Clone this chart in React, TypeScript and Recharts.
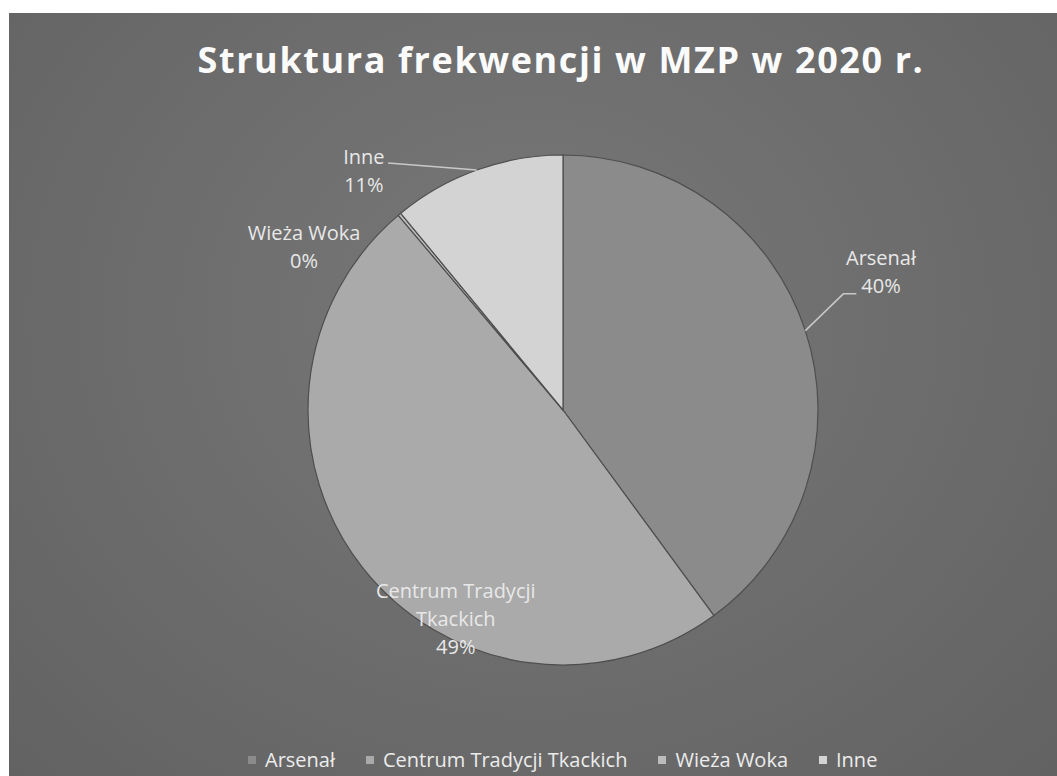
import { PieChart, Pie, Cell, Legend } from 'recharts';

const categories = ['Arsenał', 'Centrum Tradycji Tkackich', 'Wieża Woka', 'Inne'];
const shares = [40, 49, 0.2, 11];
const sliceColors = ['#8b8b8b', '#aaaaaa', '#bcbcbc', '#d3d3d3'];
const labelLines: Record<string, string[]> = {
  'Arsenał': ['Arsenał'],
  'Centrum Tradycji Tkackich': ['Centrum Tradycji', 'Tkackich'],
  'Wieża Woka': ['Wieża Woka'],
  'Inne': ['Inne'],
};

const data = categories.map((name, i) => ({ name, value: shares[i] }));

// label block placement, polar: degrees clockwise from 12 o'clock, radius as a multiple of outerRadius
const labelPlace: Record<string, { angle: number; r: number; leader?: { angle: number; r: number; tail: number } }> = {
  'Arsenał': { angle: 66.5, r: 1.36, leader: { angle: 67.5, r: 1.19, tail: 13 } },
  'Centrum Tradycji Tkackich': { angle: 207.2, r: 0.92 },
  'Wieża Woka': { angle: 302.2, r: 1.2 },
  'Inne': { angle: 320.2, r: 1.22, leader: { angle: 324.7, r: 1.187, tail: 0 } },
};

const W = 1048;
const H = 763;
const FONT = '"Open Sans", "DejaVu Sans", sans-serif';

function polar(cx: number, cy: number, r: number, deg: number) {
  const rad = (deg * Math.PI) / 180;
  return { x: cx + r * Math.sin(rad), y: cy - r * Math.cos(rad) };
}

function renderLabel(props: any) {
  const { cx, cy, outerRadius, midAngle, percent, name } = props;
  const place = labelPlace[name];
  if (!place) return null;
  const lines = [...labelLines[name], `${Math.round(percent * 100)}%`];
  const lineH = 28;
  const c = polar(cx, cy, outerRadius * place.r, place.angle);
  const top = c.y - ((lines.length - 1) * lineH) / 2;
  let leader = null;
  if (place.leader) {
    const start = polar(cx, cy, outerRadius, 90 - midAngle);
    const elbow = polar(cx, cy, outerRadius * place.leader.r, place.leader.angle);
    const end = { x: elbow.x + place.leader.tail, y: elbow.y };
    leader = (
      <polyline
        points={`${start.x},${start.y} ${elbow.x},${elbow.y} ${end.x},${end.y}`}
        fill="none"
        stroke="#c8c8c8"
        strokeWidth={1.5}
      />
    );
  }
  return (
    <g key={name}>
      {leader}
      {lines.map((t, i) => (
        <text
          key={i}
          x={c.x}
          y={top + i * lineH}
          textAnchor="middle"
          dominantBaseline="central"
          fill="#e8e8e8"
          fontSize={20}
          fontFamily={FONT}
        >
          {t}
        </text>
      ))}
    </g>
  );
}

function renderLegend() {
  return (
    <div
      style={{
        display: 'flex',
        alignItems: 'center',
        paddingLeft: 239,
        fontFamily: FONT,
        fontSize: 20,
        color: '#ececec',
        lineHeight: '24px',
      }}
    >
      {categories.map((c, i) => (
        <div key={c} style={{ display: 'flex', alignItems: 'center', marginRight: 31 }}>
          <span
            style={{
              display: 'inline-block',
              width: 8,
              height: 8,
              background: sliceColors[i],
              marginRight: 9,
            }}
          />
          <span>{c}</span>
        </div>
      ))}
    </div>
  );
}

export default function App() {
  return (
    <div
      style={{
        position: 'absolute',
        left: 9,
        top: 13,
        width: W,
        height: H,
        background: 'radial-gradient(ellipse at 50% 40%, #787878 0%, #6b6b6b 60%, #626262 100%)',
        overflow: 'hidden',
      }}
    >
      <div
        style={{
          position: 'absolute',
          top: 24,
          left: 0,
          width: W,
          paddingLeft: 56,
          boxSizing: 'border-box',
          textAlign: 'center',
          color: '#fbfbfb',
          fontFamily: FONT,
          fontWeight: 700,
          fontSize: 36,
          letterSpacing: 1.6,
          lineHeight: '46px',
        }}
      >
        Struktura frekwencji w MZP w 2020 r.
      </div>
      <PieChart width={W} height={H} margin={{ top: 0, right: 0, bottom: 0, left: 0 }}>
        <Pie
          data={data}
          dataKey="value"
          nameKey="name"
          cx={554}
          cy={397}
          outerRadius={255}
          startAngle={90}
          endAngle={-270}
          stroke="#4e4e4e"
          strokeWidth={1.2}
          label={renderLabel}
          labelLine={false}
          isAnimationActive={false}
        >
          {data.map((d, i) => (
            <Cell key={d.name} fill={sliceColors[i]} />
          ))}
        </Pie>
        <Legend verticalAlign="bottom" content={renderLegend} wrapperStyle={{ top: 735, bottom: 'auto', left: 0, width: W }} />
      </PieChart>
    </div>
  );
}
